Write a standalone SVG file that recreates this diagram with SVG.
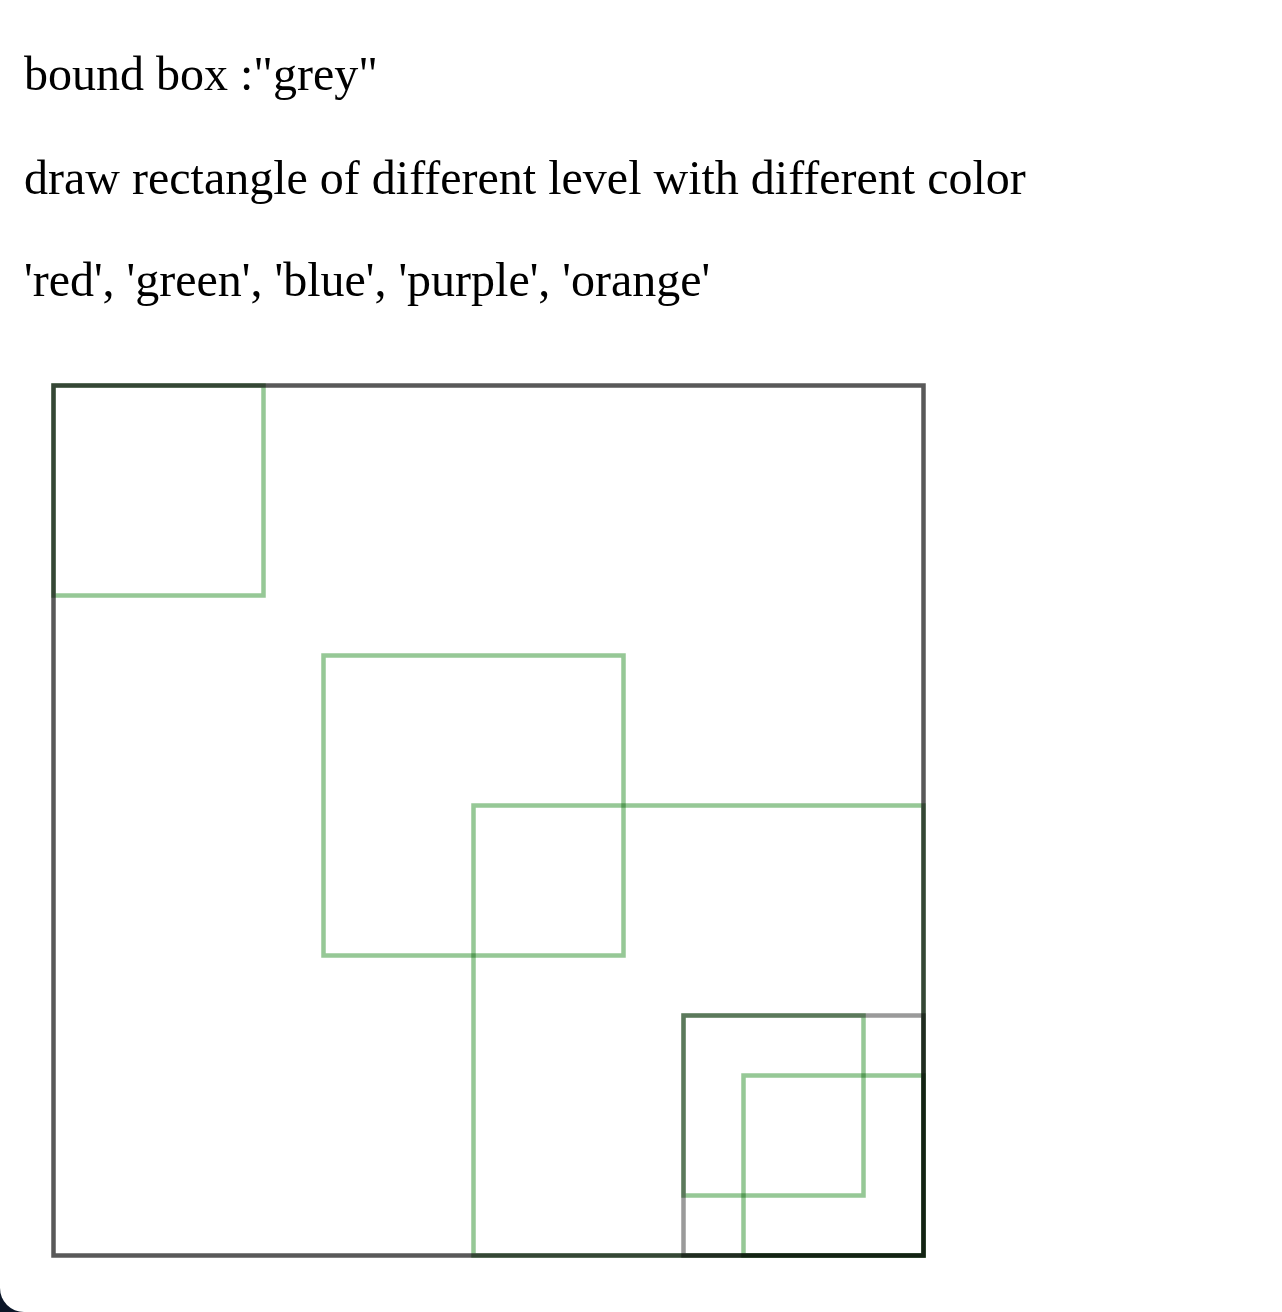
<svg xmlns="http://www.w3.org/2000/svg" width="1282" height="1312" viewBox="0 0 1282 1312">
<style>
.t{font-family:"Liberation Serif","Times New Roman",serif;font-size:48px;fill:#000}
.r{fill:none;stroke-width:4.5;mix-blend-mode:multiply}
.grey{stroke:#595959}
.lgrey{stroke:#9a9a9a}
.green{stroke:#96c896}
</style>
<rect x="0" y="0" width="1282" height="1312" fill="#0b1628"/>
<rect x="0" y="-40" width="1322" height="1352" rx="24" ry="24" fill="#ffffff"/>
<g id="texts">
<text class="t" x="24" y="90">bound box :"grey"</text>
<text class="t" x="24" y="193.5">draw rectangle of different level with different color</text>
<text class="t" x="24" y="296">'red', 'green', 'blue', 'purple', 'orange'</text>
</g>
<g id="rects" style="isolation:isolate">
<rect id="bound" class="r grey" x="53.5" y="385.5" width="870" height="870"/>
<rect id="g1" class="r green" x="53.5" y="385.5" width="210" height="210"/>
<rect id="g2" class="r green" x="323.5" y="655.5" width="300" height="300"/>
<rect id="g3" class="r green" x="473.5" y="805.5" width="450" height="450"/>
<rect id="lg" class="r lgrey" x="683.5" y="1015.5" width="240" height="240"/>
<rect id="g4" class="r green" x="683.5" y="1015.5" width="180" height="180"/>
<rect id="g5" class="r green" x="743.5" y="1075.5" width="180" height="180"/>
</g>
</svg>
